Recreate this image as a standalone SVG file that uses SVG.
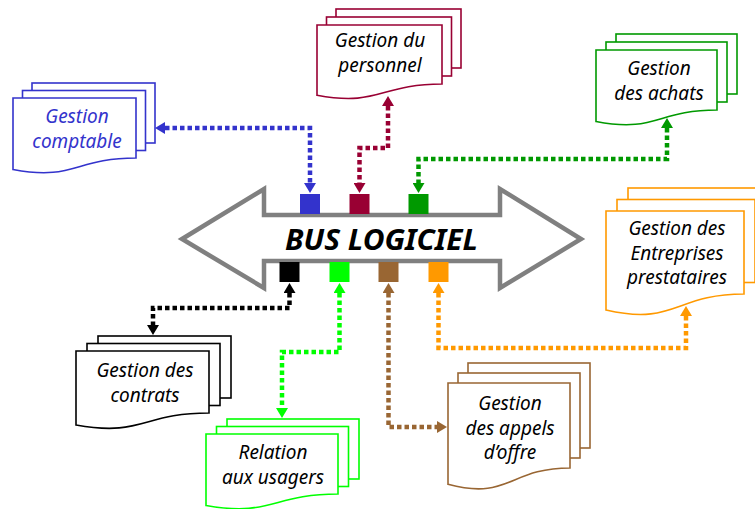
<svg xmlns="http://www.w3.org/2000/svg" width="755" height="509" viewBox="0 0 755 509">
<style>
.t{font-family:"Noto Sans","DejaVu Sans",sans-serif;font-style:italic;font-size:19px;text-anchor:middle;fill:#000}
.pg{fill:#fff;stroke-width:1.6}
.c{fill:none;stroke-width:4.5;stroke-dasharray:4.5 3}
</style>
<defs>
<marker id="mb" viewBox="0 0 10 12" refX="0" refY="6" markerWidth="10" markerHeight="12" markerUnits="userSpaceOnUse" orient="auto-start-reverse"><path d="M0,0L10,6L0,12Z" fill="#3333CC"/></marker>
<marker id="mc" viewBox="0 0 10 12" refX="0" refY="6" markerWidth="10" markerHeight="12" markerUnits="userSpaceOnUse" orient="auto-start-reverse"><path d="M0,0L10,6L0,12Z" fill="#990033"/></marker>
<marker id="mg" viewBox="0 0 10 12" refX="0" refY="6" markerWidth="10" markerHeight="12" markerUnits="userSpaceOnUse" orient="auto-start-reverse"><path d="M0,0L10,6L0,12Z" fill="#009900"/></marker>
<marker id="mk" viewBox="0 0 10 12" refX="0" refY="6" markerWidth="10" markerHeight="12" markerUnits="userSpaceOnUse" orient="auto-start-reverse"><path d="M0,0L10,6L0,12Z" fill="#000"/></marker>
<marker id="ml" viewBox="0 0 10 12" refX="0" refY="6" markerWidth="10" markerHeight="12" markerUnits="userSpaceOnUse" orient="auto-start-reverse"><path d="M0,0L10,6L0,12Z" fill="#00FF00"/></marker>
<marker id="mr" viewBox="0 0 10 12" refX="0" refY="6" markerWidth="10" markerHeight="12" markerUnits="userSpaceOnUse" orient="auto-start-reverse"><path d="M0,0L10,6L0,12Z" fill="#996633"/></marker>
<marker id="mo" viewBox="0 0 10 12" refX="0" refY="6" markerWidth="10" markerHeight="12" markerUnits="userSpaceOnUse" orient="auto-start-reverse"><path d="M0,0L10,6L0,12Z" fill="#FF9900"/></marker>
</defs>

<g id="bus">
<path d="M182,239 L264,189 L264,215 L500,215 L500,189 L581,239 L500,288 L500,261 L264,261 L264,288 Z" fill="#fff" stroke="#808080" stroke-width="4.5" stroke-linejoin="miter"/>
<text x="381.5" y="250" textLength="193" lengthAdjust="spacingAndGlyphs" style="font-family:'Noto Sans','DejaVu Sans',sans-serif;font-style:italic;font-weight:bold;font-size:29px;text-anchor:middle">BUS LOGICIEL</text>
<rect x="300" y="194" width="20" height="20" fill="#3333CC"/>
<rect x="349.5" y="194" width="20" height="20" fill="#990033"/>
<rect x="408.5" y="194" width="20" height="20" fill="#009900"/>
<rect x="279.5" y="262" width="20" height="20" fill="#000"/>
<rect x="329.5" y="262" width="20" height="20" fill="#00FF00"/>
<rect x="378.5" y="262" width="20" height="20" fill="#996633"/>
<rect x="428.5" y="262" width="20" height="20" fill="#FF9900"/>
</g>

<g id="connectors">
<path class="c" stroke="#3333CC" d="M165,128 H310 V183" marker-start="url(#mb)" marker-end="url(#mb)"/>
<path class="c" stroke="#990033" d="M388,106 V148 H359.5 V183" marker-start="url(#mc)" marker-end="url(#mc)"/>
<path class="c" stroke="#009900" d="M667,128 V159 H418.5 V183" marker-start="url(#mg)" marker-end="url(#mg)"/>
<path class="c" stroke="#000" d="M289.5,293 V308 H153 V325" marker-start="url(#mk)" marker-end="url(#mk)"/>
<path class="c" stroke="#00FF00" d="M339.5,293 V352 H282 V408" marker-start="url(#ml)" marker-end="url(#ml)"/>
<path class="c" stroke="#996633" d="M388.5,293 V427 H437" marker-start="url(#mr)" marker-end="url(#mr)"/>
<path class="c" stroke="#FF9900" d="M438.5,293 V348 H686 V316" marker-start="url(#mo)" marker-end="url(#mo)"/>
</g>

<g id="comptable" stroke="#3333CC">
<rect class="pg" x="32" y="83" width="123" height="60"/>
<rect class="pg" x="22.5" y="90.5" width="123" height="60"/>
<path class="pg" d="M13,169.5 C74.5,181 74.5,158 136,158 V98 H13 Z"/>
<text class="t" x="77" y="123" stroke="none" style="fill:#3333CC">Gestion</text>
<text class="t" x="77" y="148" stroke="none" style="fill:#3333CC">comptable</text>
</g>

<g id="personnel" stroke="#990033">
<rect class="pg" x="336" y="9" width="125" height="59"/>
<rect class="pg" x="326.5" y="17" width="125" height="59"/>
<path class="pg" d="M317,95.3 C379.5,106.7 379.5,84 442,84 V25 H317 Z"/>
<text class="t" x="380" y="47" stroke="none">Gestion du</text>
<text class="t" x="380" y="72" stroke="none">personnel</text>
</g>

<g id="achats" stroke="#009900">
<rect class="pg" x="616" y="34" width="121" height="60"/>
<rect class="pg" x="606" y="42" width="121" height="60"/>
<path class="pg" d="M596,121.5 C656.5,133 656.5,110 717,110 V50 H596 Z"/>
<text class="t" x="659" y="75" stroke="none">Gestion</text>
<text class="t" x="659" y="100" stroke="none">des achats</text>
</g>

<g id="entreprises" stroke="#FF9900">
<rect class="pg" x="628" y="188" width="138" height="83"/>
<rect class="pg" x="617" y="199.5" width="138" height="83"/>
<path class="pg" d="M606,310 C675,326 675,294 744,294 V211 H606 Z"/>
<text class="t" x="677" y="235" stroke="none">Gestion des</text>
<text class="t" x="677" y="260" stroke="none">Entreprises</text>
<text class="t" x="677" y="284" stroke="none">prestataires</text>
</g>

<g id="contrats" stroke="#000">
<rect class="pg" x="98" y="336" width="133" height="62"/>
<rect class="pg" x="87" y="343.5" width="133" height="62"/>
<path class="pg" d="M76,425 C142.5,437 142.5,413 209,413 V351 H76 Z"/>
<text class="t" x="145" y="377" stroke="none">Gestion des</text>
<text class="t" x="145" y="402" stroke="none">contrats</text>
</g>

<g id="relation" stroke="#00FF00">
<rect class="pg" x="227" y="419" width="132" height="60"/>
<rect class="pg" x="216.5" y="426.5" width="132" height="60"/>
<path class="pg" d="M206,505.5 C272,517 272,494 338,494 V434 H206 Z"/>
<text class="t" x="273" y="459" stroke="none">Relation</text>
<text class="t" x="273" y="484" stroke="none">aux usagers</text>
</g>

<g id="appels" stroke="#996633">
<rect class="pg" x="468" y="363" width="122" height="85"/>
<rect class="pg" x="458" y="373" width="122" height="85"/>
<path class="pg" d="M448,484.3 C509,500.7 509,468 570,468 V383 H448 Z"/>
<text class="t" x="510" y="410" stroke="none">Gestion</text>
<text class="t" x="510" y="435" stroke="none">des appels</text>
<text class="t" x="510" y="459" stroke="none">d’offre</text>
</g>
</svg>
